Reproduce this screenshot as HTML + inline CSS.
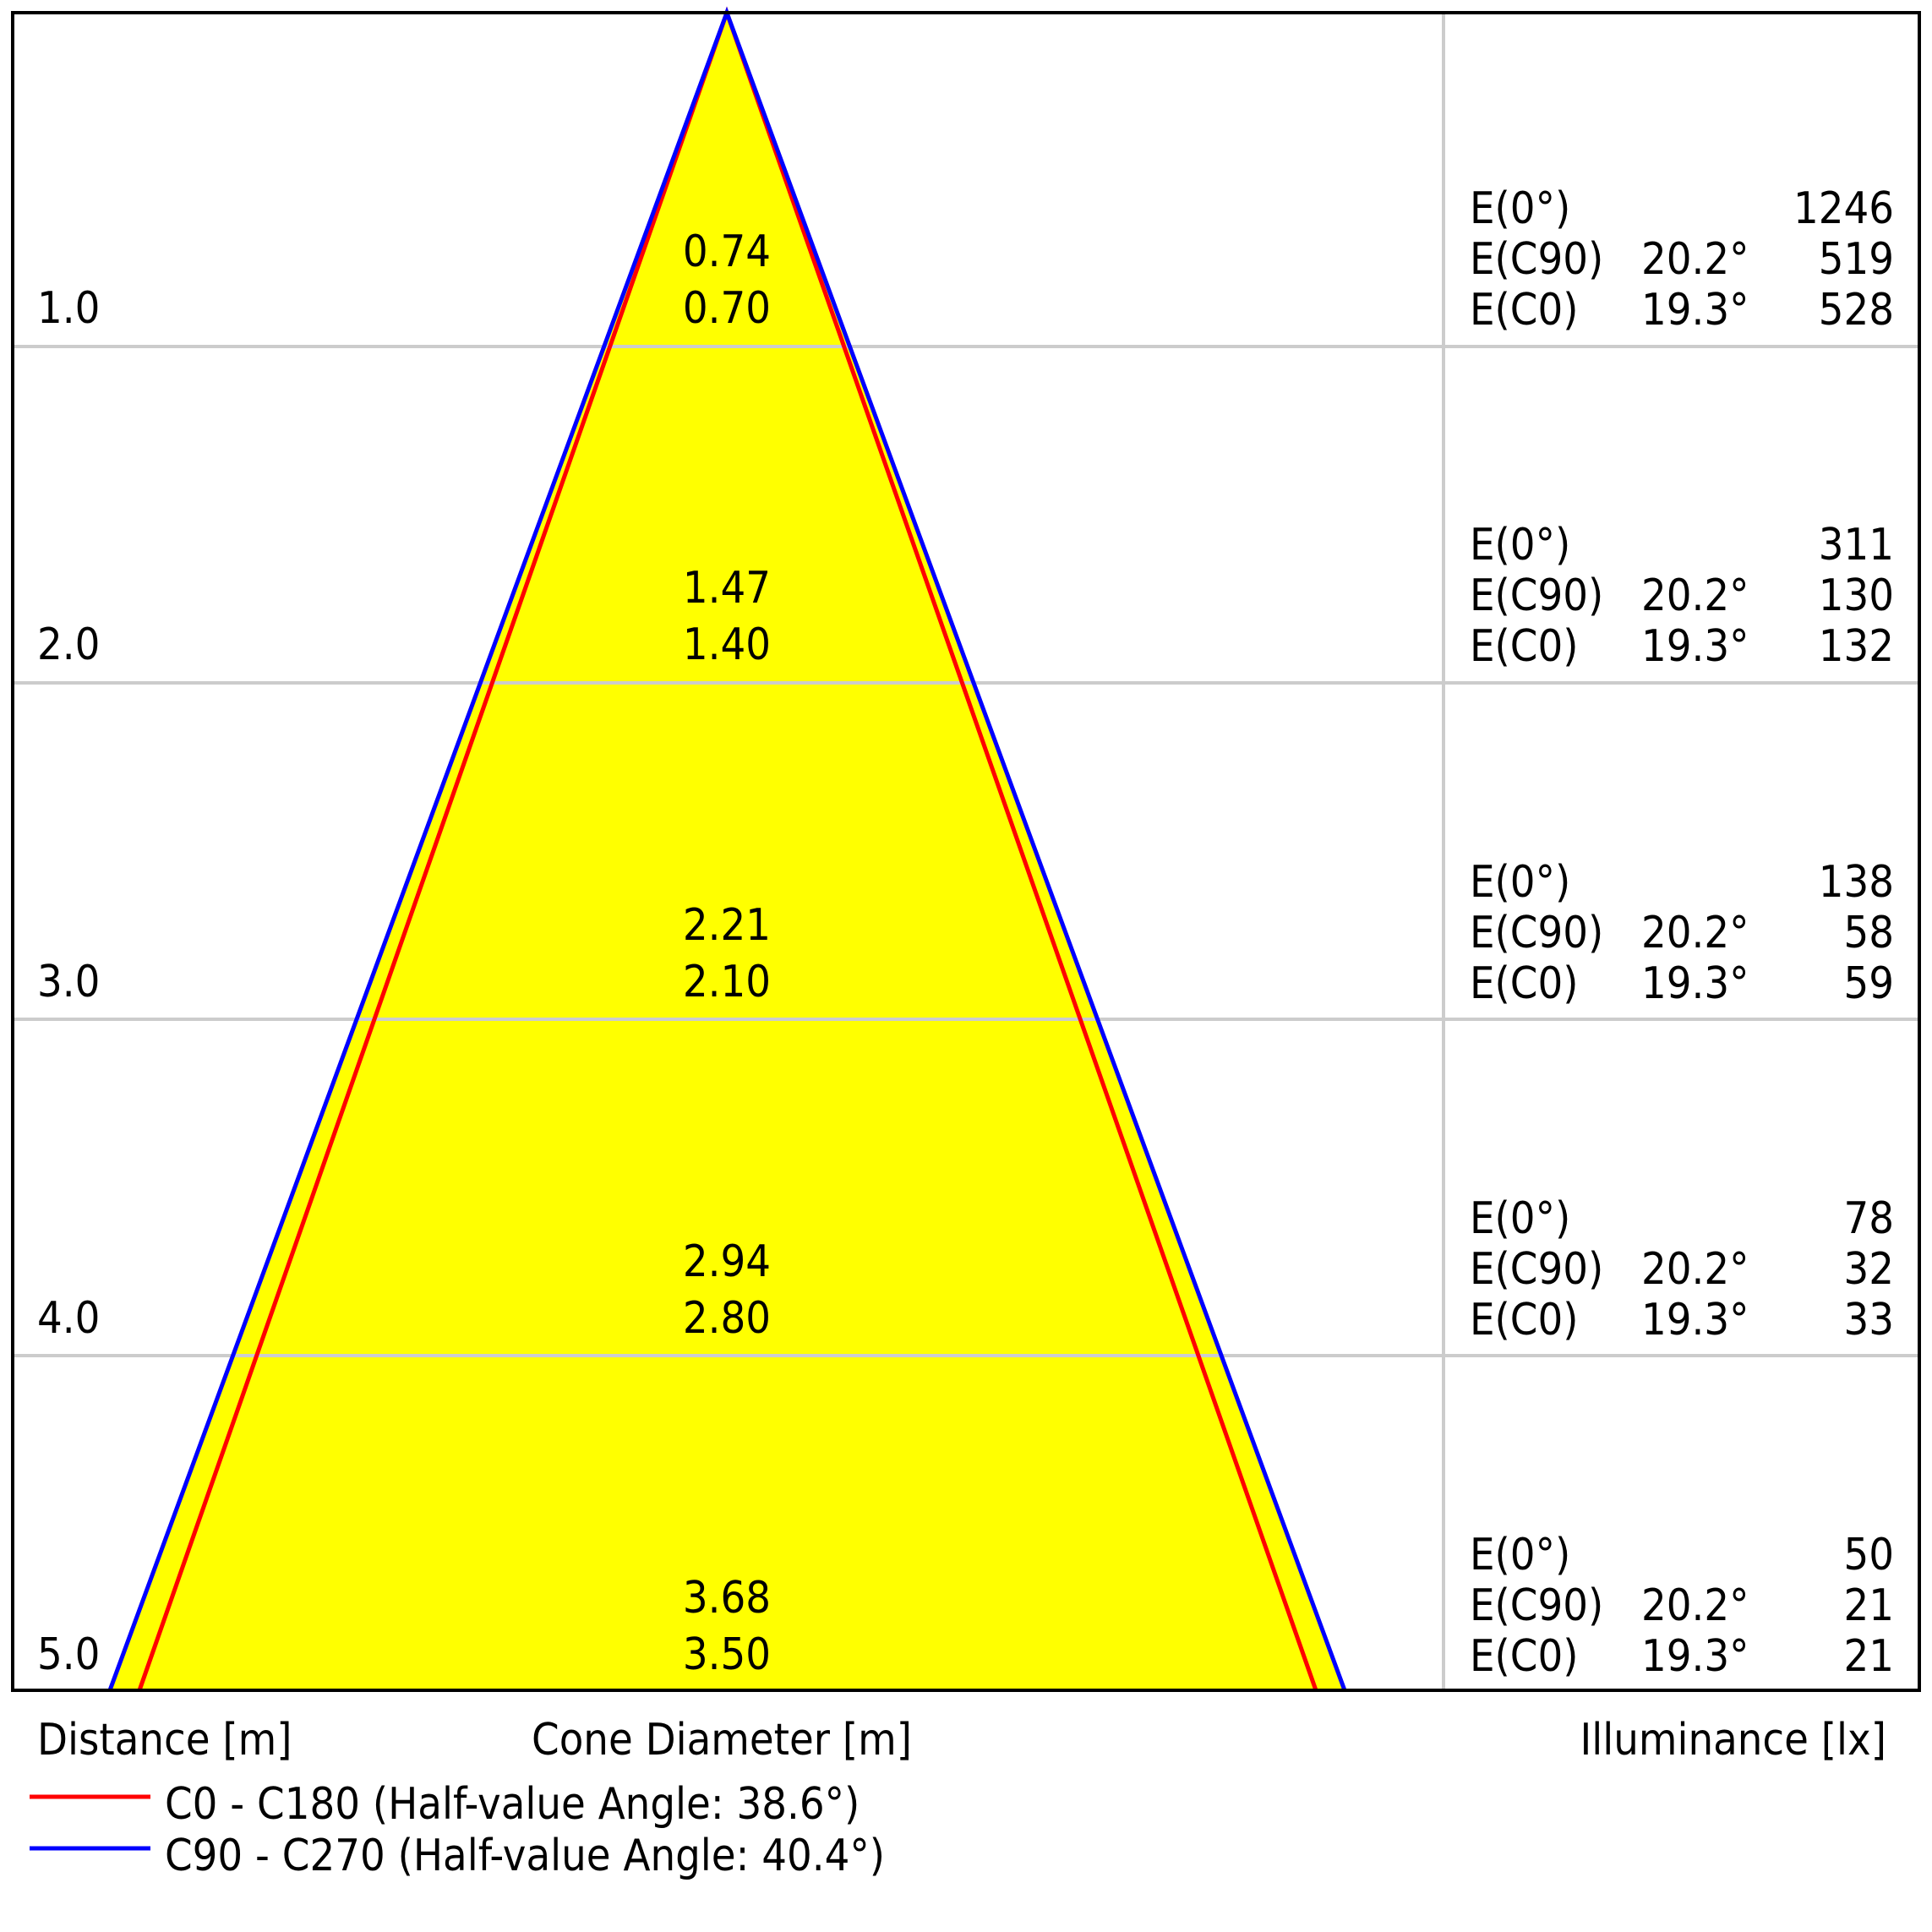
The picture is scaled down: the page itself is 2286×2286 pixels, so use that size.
<!DOCTYPE html>
<html><head><meta charset="utf-8"><style>
html,body{margin:0;padding:0;background:#fff;}
svg{display:block;}
text{font-family:"DejaVu Sans Condensed","Liberation Sans",sans-serif;font-size:52px;fill:#000;}
</style></head><body>
<svg width="2286" height="2286" viewBox="0 0 2286 2286" xmlns="http://www.w3.org/2000/svg">
<rect x="0" y="0" width="2286" height="2286" fill="#fff"/>
<polygon points="860,15 130,2000 1591,2000" fill="#ffff00"/>
<g stroke="#cccccc" stroke-width="4">
<line x1="15" y1="410" x2="2271" y2="410"/>
<line x1="15" y1="808" x2="2271" y2="808"/>
<line x1="15" y1="1206" x2="2271" y2="1206"/>
<line x1="15" y1="1604" x2="2271" y2="1604"/>
<line x1="1708" y1="15" x2="1708" y2="2000"/>
</g>
<polyline points="165,2000 860,15 1557,2000" fill="none" stroke="#ff0000" stroke-width="5"/>
<polyline points="130,2000 860,15 1591,2000" fill="none" stroke="#0000ff" stroke-width="5"/>
<rect x="15" y="15" width="2256" height="1985" fill="none" stroke="#000" stroke-width="4"/>
<g>
<text x="44" y="382">1.0</text>
<text x="44" y="780">2.0</text>
<text x="44" y="1179">3.0</text>
<text x="44" y="1577">4.0</text>
<text x="44" y="1975">5.0</text>
</g>
<g text-anchor="middle">
<text x="860" y="315">0.74</text><text x="860" y="382">0.70</text>
<text x="860" y="713">1.47</text><text x="860" y="780">1.40</text>
<text x="860" y="1112">2.21</text><text x="860" y="1179">2.10</text>
<text x="860" y="1510">2.94</text><text x="860" y="1577">2.80</text>
<text x="860" y="1908">3.68</text><text x="860" y="1975">3.50</text>
</g>
<g id="t0">
<text x="1739" y="264">E(0°)</text><text x="1739" y="324">E(C90)</text><text x="1739" y="384">E(C0)</text>
<text x="1942" y="324">20.2°</text><text x="1942" y="384">19.3°</text>
</g>
<use href="#t0" y="398"/><use href="#t0" y="797"/><use href="#t0" y="1195"/><use href="#t0" y="1593"/>
<g text-anchor="end">
<text x="2241" y="264">1246</text><text x="2241" y="324">519</text><text x="2241" y="384">528</text>
<text x="2241" y="662">311</text><text x="2241" y="722">130</text><text x="2241" y="782">132</text>
<text x="2241" y="1061">138</text><text x="2241" y="1121">58</text><text x="2241" y="1181">59</text>
<text x="2241" y="1459">78</text><text x="2241" y="1519">32</text><text x="2241" y="1579">33</text>
<text x="2241" y="1857">50</text><text x="2241" y="1917">21</text><text x="2241" y="1977">21</text>
</g>
<text x="44" y="2076">Distance [m]</text>
<text x="854" y="2076" text-anchor="middle">Cone Diameter [m]</text>
<text x="2232" y="2076" text-anchor="end">Illuminance [lx]</text>
<line x1="35" y1="2126" x2="178" y2="2126" stroke="#ff0000" stroke-width="5"/>
<text x="195" y="2152">C0 - C180 (Half-value Angle: 38.6°)</text>
<line x1="35" y1="2187" x2="178" y2="2187" stroke="#0000ff" stroke-width="5"/>
<text x="195" y="2213">C90 - C270 (Half-value Angle: 40.4°)</text>
</svg>
</body></html>
